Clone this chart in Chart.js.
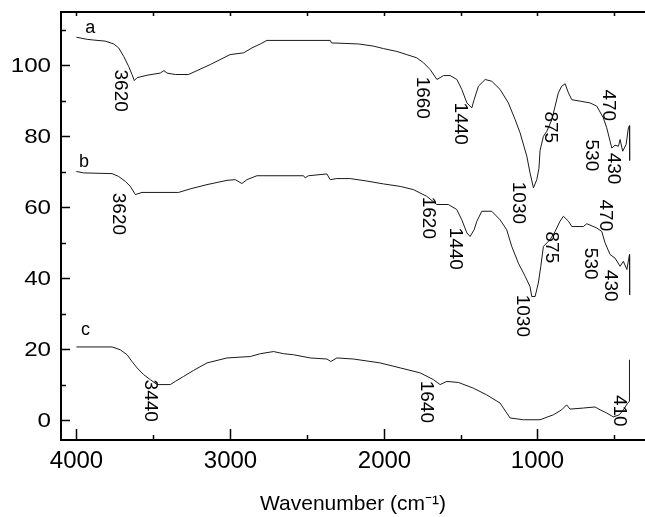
<!DOCTYPE html>
<html>
<head>
<meta charset="utf-8">
<script src="https://cdn.jsdelivr.net/npm/chart.js@4/dist/chart.umd.min.js"></script>
<style>
  html, body { margin: 0; padding: 0; background: #fff; }
  #wrap { width: 645px; height: 517px; }
</style>
</head>
<body>
<div id="wrap"><canvas id="ir" width="645" height="517"></canvas></div>
<script>
// axis ticks (labels only on the multiples of 1000 / 20)
const xTicks = [4000, 3500, 3000, 2500, 2000, 1500, 1000, 500];
const yTicks = [0, 10, 20, 30, 40, 50, 60, 70, 80, 90, 100, 110];

// spectrum a
const waveA = [4000, 3930, 3887, 3811, 3757, 3725, 3692, 3660, 3638, 3623, 3605, 3540, 3454, 3430, 3410, 3356, 3270, 3215, 3129, 3000,
  2912, 2857, 2803, 2760, 2348, 2340, 2164, 2067, 2002, 1915, 1850, 1785, 1741, 1698, 1654, 1611, 1568, 1524, 1492, 1459,
  1427, 1412, 1384, 1340, 1297, 1243, 1189, 1145, 1113, 1069, 1048, 1026, 1004, 990, 983, 961, 939, 906, 885, 864,
  842, 820, 798, 776, 722, 657, 614, 571, 549, 527, 516, 495, 473, 462, 445, 423, 408, 401, 400];
const valA = [107.9, 107.3, 107.1, 106.8, 106.0, 104.9, 102.5, 99.7, 97.4, 95.7, 96.5, 97.2, 97.8, 98.5, 97.8, 97.4, 97.4, 98.5, 100.2, 103.0,
  103.5, 104.9, 106.0, 107.0, 107.0, 106.3, 106.0, 105.4, 104.7, 103.9, 103.0, 102.1, 100.7, 98.8, 96.0, 97.1, 97.1, 96.0, 93.2, 89.4,
  88.0, 90.3, 94.1, 96.0, 95.5, 93.2, 89.4, 84.7, 81.0, 74.4, 69.7, 65.5, 67.8, 71.0, 76.0, 80.0, 81.4, 84.7, 88.5, 92.2,
  94.1, 94.8, 92.2, 90.3, 89.9, 89.4, 88.5, 85.2, 82.4, 78.6, 76.7, 77.5, 77.2, 79.1, 75.8, 77.7, 82.4, 83.0, 73.2];

// spectrum b
const waveB = [4000, 3953, 3768, 3725, 3681, 3649, 3616, 3573, 3335, 3259, 3150, 3020, 2966, 2923, 2890, 2825, 2522, 2511, 2490, 2370,
  2348, 2305, 2218, 2109, 2002, 1893, 1807, 1720, 1655, 1580, 1525, 1492, 1459, 1438, 1412, 1394, 1362, 1297, 1243, 1200,
  1167, 1124, 1080, 1048, 1037, 1015, 994, 978, 961, 918, 885, 853, 831, 798, 776, 701, 679, 614, 581, 560,
  527, 495, 462, 441, 418, 401, 400];
const valB = [70.1, 69.7, 69.5, 68.7, 67.3, 65.9, 63.6, 64.2, 64.2, 65.2, 66.4, 67.6, 67.8, 66.7, 67.8, 68.9, 68.9, 68.3, 68.9, 69.4,
  67.8, 68.1, 68.1, 67.4, 66.6, 65.9, 65.0, 63.1, 60.8, 60.8, 59.4, 56.5, 52.8, 51.8, 53.7, 56.1, 58.9, 58.9, 56.5, 53.7,
  49.0, 44.3, 40.6, 37.7, 34.9, 34.9, 38.7, 43.4, 49.0, 50.9, 53.2, 56.1, 57.5, 56.1, 54.6, 54.6, 55.4, 54.2, 53.2, 50.0,
  46.7, 45.7, 43.4, 44.8, 42.5, 46.7, 35.4];

// spectrum c
const waveC = [4000, 3768, 3714, 3670, 3638, 3605, 3562, 3519, 3475, 3389, 3356, 3302, 3237, 3150, 3020, 2868, 2803, 2717, 2652, 2587,
  2478, 2370, 2344, 2305, 2197, 2023, 1893, 1763, 1677, 1633, 1590, 1514, 1417, 1330, 1243, 1178, 1091, 983, 896, 842,
  810, 788, 701, 625, 592, 549, 506, 467, 441, 415, 402, 401];
const valC = [20.7, 20.7, 19.9, 18.5, 16.6, 14.8, 12.9, 11.5, 10.1, 10.1, 11.0, 12.4, 14.1, 16.2, 17.6, 18.0, 18.8, 19.4, 18.8, 18.5,
  17.6, 17.3, 16.6, 17.6, 17.3, 16.2, 14.8, 13.4, 11.5, 10.1, 11.0, 10.7, 9.1, 7.2, 4.9, 0.7, 0.2, 0.2, 1.6, 3.0,
  4.4, 3.2, 3.5, 3.8, 3.0, 2.1, 1.0, 1.6, 3.0, 4.7, 5.4, 17.1];

// curve names and where they sit
const curveNames = ['a', 'b', 'c'];
const nameWave = [3909, 3951, 3941];
const nameVal = [109.2, 71.5, 24.1];

// band labels (rotated), anchored at the top-centre of each label
const bandText = ['3620', '1660', '1440', '875', '470', '530', '430', '1030',
  '3620', '1620', '1440', '875', '470', '530', '430', '1030',
  '3440', '1640', '410'];
const bandWave = [3717, 1747, 1503, 918, 537, 648, 505, 1122,
  3727, 1708, 1532, 908, 557, 654, 524, 1100,
  3522, 1724, 466];
const bandVal = [98.8, 96.8, 89.5, 87.0, 93.2, 79.1, 75.4, 67.2,
  64.1, 63.0, 54.3, 53.2, 62.2, 48.6, 42.4, 35.4,
  11.5, 11.2, 7.2];

const FONT = "'Liberation Sans', Arial, sans-serif";
const toPts = (w, v) => w.map((x, i) => ({ x: x, y: v[i] }));
const line = (w, v) => ({
  data: toPts(w, v), borderColor: '#1a1a1a', borderWidth: 1,
  pointRadius: 0, tension: 0, fill: false
});

// frame, inward ticks, tick labels and band labels
const frame = {
  id: 'frame',
  afterDraw(chart) {
    const { ctx, chartArea: a, scales: { x, y } } = chart;
    ctx.save();
    ctx.strokeStyle = '#000';
    ctx.lineWidth = 2;
    ctx.beginPath(); ctx.moveTo(a.left, a.top); ctx.lineTo(a.right, a.top); ctx.stroke();
    ctx.lineWidth = 1.5;
    ctx.fillStyle = '#000';
    ctx.font = '24px ' + FONT;
    ctx.textAlign = 'center';
    ctx.textBaseline = 'alphabetic';
    x.ticks.forEach(t => {
      const px = Math.round(x.getPixelForValue(t.value)) + 0.5;
      const major = t.value % 1000 === 0;
      ctx.beginPath(); ctx.moveTo(px, a.bottom); ctx.lineTo(px, a.bottom - (major ? 11 : 5)); ctx.stroke();
      ctx.beginPath(); ctx.moveTo(px, a.top); ctx.lineTo(px, a.top + 4); ctx.stroke();
      if (major) ctx.fillText(String(t.value), px, a.bottom + 28);
    });
    ctx.font = '21px ' + FONT;
    ctx.textAlign = 'right';
    ctx.textBaseline = 'middle';
    y.ticks.forEach(t => {
      const py = Math.round(y.getPixelForValue(t.value)) + 0.5;
      const major = t.value % 20 === 0;
      ctx.beginPath(); ctx.moveTo(a.left, py); ctx.lineTo(a.left + (major ? 9 : 5), py); ctx.stroke();
      if (major) {
        ctx.save();
        ctx.translate(a.left - 10, py + 1);
        ctx.scale(1.15, 1);
        ctx.fillText(String(t.value), 0, 0);
        ctx.restore();
      }
    });

    ctx.font = '18px ' + FONT;
    ctx.textAlign = 'center';
    ctx.textBaseline = 'alphabetic';
    curveNames.forEach((s, i) => {
      ctx.fillText(s, x.getPixelForValue(nameWave[i]), y.getPixelForValue(nameVal[i]));
    });
    ctx.font = '19px ' + FONT;
    ctx.textAlign = 'left';
    ctx.textBaseline = 'middle';
    bandText.forEach((s, i) => {
      ctx.save();
      ctx.translate(x.getPixelForValue(bandWave[i]), y.getPixelForValue(bandVal[i]));
      ctx.rotate(Math.PI / 2);
      ctx.fillText(s, 0, 0);
      ctx.restore();
    });
    ctx.restore();
  }
};

new Chart(document.getElementById('ir'), {
  type: 'line',
  data: { datasets: [line(waveA, valA), line(waveB, valB), line(waveC, valC)] },
  options: {
    responsive: false,
    animation: false,
    layout: { autoPadding: false, padding: { top: 12, right: 0, left: 0, bottom: 0 } },
    plugins: { legend: { display: false }, tooltip: { enabled: false } },
    scales: {
      x: {
        type: 'linear', reverse: true, min: 300, max: 4100,
        grid: { display: false },
        border: { display: true, color: '#000', width: 2 },
        ticks: { display: false },
        afterBuildTicks: s => { s.ticks = xTicks.map(v => ({ value: v })); },
        title: {
          display: true, text: 'Wavenumber (cm⁻¹)', color: '#000',
          font: { family: FONT, size: 21 }, padding: { top: 0, bottom: 0 }
        },
        afterFit: s => { s.height = 77; }
      },
      y: {
        min: -5.5, max: 115,
        grid: { display: false },
        border: { display: true, color: '#000', width: 2 },
        ticks: { display: false },
        afterBuildTicks: s => { s.ticks = yTicks.map(v => ({ value: v })); },
        afterFit: s => { s.width = 61; }
      }
    }
  },
  plugins: [frame]
});
</script>
</body>
</html>
